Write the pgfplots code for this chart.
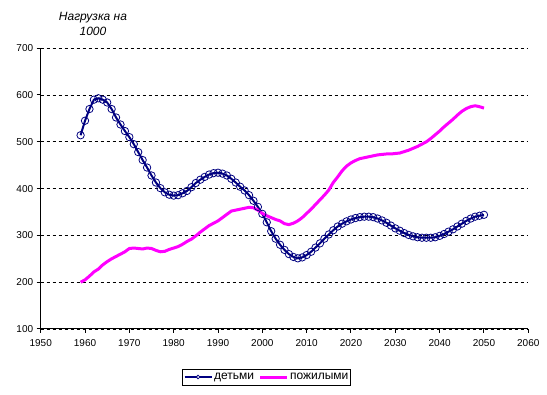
\documentclass[border=0pt]{standalone}
\usepackage{fontspec}
\setmainfont{Liberation Sans}
\usepackage{pgfplots}
\pgfplotsset{compat=1.18}
\definecolor{navy}{RGB}{0,0,128}
\definecolor{mag}{RGB}{255,0,255}
\begin{document}
\fontsize{10}{12}\selectfont
\begin{tikzpicture}[x=1pt,y=1pt]
\useasboundingbox (-40.7,-66) rectangle (506.3,329);
\begin{axis}[
  at={(0,0)}, anchor=south west, scale only axis,
  width=487.6pt, height=280.8pt,
  xmin=1950, xmax=2060, ymin=100, ymax=700,
  xtick={1950,1960,...,2060}, ytick={100,200,...,700},
  axis x line=bottom, axis y line=left,
  axis line style={-, line width=1pt},
  ymajorgrids,
  grid style={black, dash pattern=on 3pt off 3pt, line width=0.8pt},
  tick align=outside, major tick length=4pt,
  tick style={black, line width=1pt},
  /pgf/number format/assume math mode=true,
  /pgf/number format/1000 sep={},
  ticklabel style={font=\fontsize{10}{12}\selectfont},
  xticklabel style={yshift=-3pt},
  legend columns=2,
  legend style={at={(0.4635,-0.171)}, anchor=center, draw=black, line width=0.8pt,
    font=\fontsize{12}{14}\selectfont, inner xsep=1pt, inner ysep=2.5pt,
    nodes={inner sep=1.5pt},
    /tikz/every even column/.append style={column sep=3pt}},
]
\addplot[color=navy, line width=2pt, mark=o, mark size=3.7pt,
  mark options={line width=0.8pt, fill=none},
  legend image code/.code={\draw[navy, line width=2pt] (0pt,0pt) -- (27pt,0pt);
    \draw[navy, line width=0.8pt, fill=white] (13.5pt,0pt) circle (1.8pt);}]
coordinates {
(1959,514)(1960,545)(1961,570)(1962,590)(1963,593)(1964,590)(1965,584)(1966,570)(1967,552)(1968,537)(1969,523)
(1970,510)(1971,495)(1972,478)(1973,461)(1974,445)(1975,428)(1976,413)(1977,401)(1978,392)(1979,387)
(1980,385)(1981,386)(1982,390)(1983,395)(1984,403)(1985,412)(1986,419)(1987,425)(1988,430)(1989,433)
(1990,434)(1991,432)(1992,428)(1993,421)(1994,413)(1995,404)(1996,396)(1997,386)(1998,374)(1999,361)
(2000,346)(2001,328)(2002,309)(2003,293)(2004,280)(2005,269)(2006,260)(2007,254)(2008,251)(2009,253)
(2010,258)(2011,265)(2012,274)(2013,283)(2014,293)(2015,302)(2016,311)(2017,319)(2018,325)(2019,330)
(2020,334)(2021,337)(2022,339)(2023,340)(2024,340)(2025,339)(2026,336)(2027,332)(2028,327)(2029,321)
(2030,315)(2031,310)(2032,305)(2033,301)(2034,298)(2035,296)(2036,295)(2037,295)(2038,295)(2039,296)
(2040,299)(2041,303)(2042,308)(2043,313)(2044,319)(2045,325)(2046,331)(2047,336)(2048,340)(2049,342)
(2050,344)
};
\addlegendentry{детьми}
\addplot[color=mag, line width=3pt, mark=none,
  legend image code/.code={\draw[mag, line width=3pt] (0pt,0pt) -- (27pt,0pt);}]
coordinates {
(1959,200)(1960,205)(1961,213)(1962,222)(1963,228)(1964,237)(1965,244)(1966,250)(1967,255)(1968,260)(1969,265)
(1970,272)(1971,273)(1972,272)(1973,271)(1974,273)(1975,272)(1976,268)(1977,265)(1978,266)(1979,270)
(1980,273)(1981,276)(1982,281)(1983,287)(1984,292)(1985,299)(1986,307)(1987,314)(1988,321)(1989,326)
(1990,331)(1991,338)(1992,345)(1993,352)(1994,354)(1995,356)(1996,358)(1997,360)(1998,359)(1999,354)
(2000,347)(2001,342)(2002,338)(2003,334)(2004,331)(2005,325)(2006,323)(2007,326)(2008,331)(2009,338)
(2010,347)(2011,356)(2012,366)(2013,376)(2014,386)(2015,397)(2016,413)(2017,425)(2018,438)(2019,448)
(2020,455)(2021,460)(2022,464)(2023,466)(2024,468)(2025,470)(2026,472)(2027,473)(2028,474)(2029,474)
(2030,475)(2031,476)(2032,479)(2033,482)(2034,486)(2035,490)(2036,495)(2037,500)(2038,507)(2039,515)
(2040,523)(2041,532)(2042,540)(2043,548)(2044,557)(2045,565)(2046,571)(2047,575)(2048,577)(2049,575)
(2050,572)
};
\addlegendentry{пожилыми}
\end{axis}
\node[font=\fontsize{12}{15}\selectfont\itshape, align=center] at (52.3,305) {Нагрузка на\\1000};
\end{tikzpicture}
\end{document}
